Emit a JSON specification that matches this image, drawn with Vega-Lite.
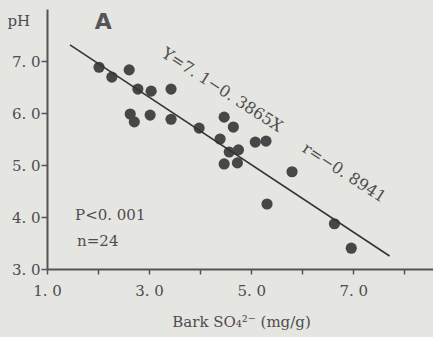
{
  "$schema": "https://vega.github.io/schema/vega-lite/v6.json",
  "width": 388,
  "height": 260,
  "autosize": "none",
  "padding": {"left": 47, "top": 9, "right": 0, "bottom": 68},
  "background": "#e5e5e2",
  "config": {"view": {"stroke": null}, "font": "DejaVu Serif"},
  "datasets": {
    "points": [
      {"so4": 2.02, "ph": 6.88},
      {"so4": 2.27, "ph": 6.69},
      {"so4": 2.61, "ph": 6.83},
      {"so4": 2.78, "ph": 6.46},
      {"so4": 3.04, "ph": 6.42},
      {"so4": 3.43, "ph": 6.46},
      {"so4": 2.63, "ph": 5.98},
      {"so4": 2.71, "ph": 5.83},
      {"so4": 3.02, "ph": 5.96},
      {"so4": 3.43, "ph": 5.88},
      {"so4": 3.98, "ph": 5.71},
      {"so4": 4.47, "ph": 5.92},
      {"so4": 4.65, "ph": 5.73},
      {"so4": 4.39, "ph": 5.5},
      {"so4": 4.57, "ph": 5.25},
      {"so4": 4.75, "ph": 5.29},
      {"so4": 4.47, "ph": 5.02},
      {"so4": 4.73, "ph": 5.04},
      {"so4": 5.08, "ph": 5.44},
      {"so4": 5.29, "ph": 5.46},
      {"so4": 5.8, "ph": 4.87},
      {"so4": 5.31, "ph": 4.25},
      {"so4": 6.63, "ph": 3.87},
      {"so4": 6.96, "ph": 3.4}
    ],
    "fit": [
      {"so4": 1.45, "ph": 7.31},
      {"so4": 7.71, "ph": 3.25}
    ],
    "eq": [
      {"so4": 4.43, "ph": 6.44, "label": "Y=7. 1−0. 3865X"},
      {"so4": 6.82, "ph": 4.85, "label": "r=−0. 8941"}
    ],
    "panel": [{"so4": 2.1, "ph": 7.75, "label": "A"}],
    "stats": [
      {"so4": 1.55, "ph": 4.04, "label": "P<0. 001"},
      {"so4": 1.59, "ph": 3.54, "label": "n=24"}
    ]
  },
  "layer": [
    {
      "data": {"name": "points"},
      "mark": {"type": "circle", "size": 125, "color": "#474747", "opacity": 1},
      "encoding": {
        "x": {
          "field": "so4", "type": "quantitative",
          "scale": {"domain": [1, 8.6], "nice": false, "zero": false},
          "axis": {
            "values": [1, 2, 3, 4, 5, 6, 7, 8],
            "labelExpr": "datum.value % 2 == 1 ? replace(format(datum.value, '.1f'), '.', '. ') : ''",
            "labelFlush": false,
            "labelFontSize": 15,
            "labelColor": "#4d4d4d",
            "labelPadding": 9,
            "tickSize": 5,
            "tickWidth": 1.5,
            "tickColor": "#555555",
            "domainColor": "#555555",
            "domainWidth": 2,
            "grid": false,
            "title": "Bark SO₄²⁻ (mg/g)",
            "titleFontWeight": "normal",
            "titleFontSize": 15,
            "titleColor": "#4d4d4d",
            "titlePadding": 16
          }
        },
        "y": {
          "field": "ph", "type": "quantitative",
          "scale": {"domain": [3, 8], "nice": false, "zero": false},
          "axis": {
            "values": [3, 4, 5, 6, 7],
            "labelExpr": "replace(format(datum.value, '.1f'), '.', '. ')",
            "labelFontSize": 15,
            "labelColor": "#4d4d4d",
            "labelPadding": 1,
            "tickSize": 6,
            "tickWidth": 1.5,
            "tickColor": "#555555",
            "domainColor": "#555555",
            "domainWidth": 2,
            "grid": false,
            "title": "pH",
            "titleAngle": 0,
            "titleX": -40,
            "titleY": 16,
            "titleAlign": "left",
            "titleBaseline": "alphabetic",
            "titleFontWeight": "normal",
            "titleFontSize": 15,
            "titleColor": "#4d4d4d"
          }
        }
      }
    },
    {
      "data": {"name": "fit"},
      "mark": {"type": "line", "color": "#333333", "strokeWidth": 1.5},
      "encoding": {
        "x": {"field": "so4", "type": "quantitative"},
        "y": {"field": "ph", "type": "quantitative"}
      }
    },
    {
      "data": {"name": "eq"},
      "mark": {"type": "text", "angle": 33, "fontSize": 16, "color": "#4d4d4d", "align": "center", "baseline": "middle"},
      "encoding": {
        "x": {"field": "so4", "type": "quantitative"},
        "y": {"field": "ph", "type": "quantitative"},
        "text": {"field": "label"}
      }
    },
    {
      "data": {"name": "panel"},
      "mark": {"type": "text", "font": "DejaVu Sans", "fontWeight": "bold", "fontSize": 22, "color": "#555555", "align": "center", "baseline": "middle"},
      "encoding": {
        "x": {"field": "so4", "type": "quantitative"},
        "y": {"field": "ph", "type": "quantitative"},
        "text": {"field": "label"}
      }
    },
    {
      "data": {"name": "stats"},
      "mark": {"type": "text", "fontSize": 15, "color": "#4d4d4d", "align": "left", "baseline": "middle"},
      "encoding": {
        "x": {"field": "so4", "type": "quantitative"},
        "y": {"field": "ph", "type": "quantitative"},
        "text": {"field": "label"}
      }
    }
  ]
}
